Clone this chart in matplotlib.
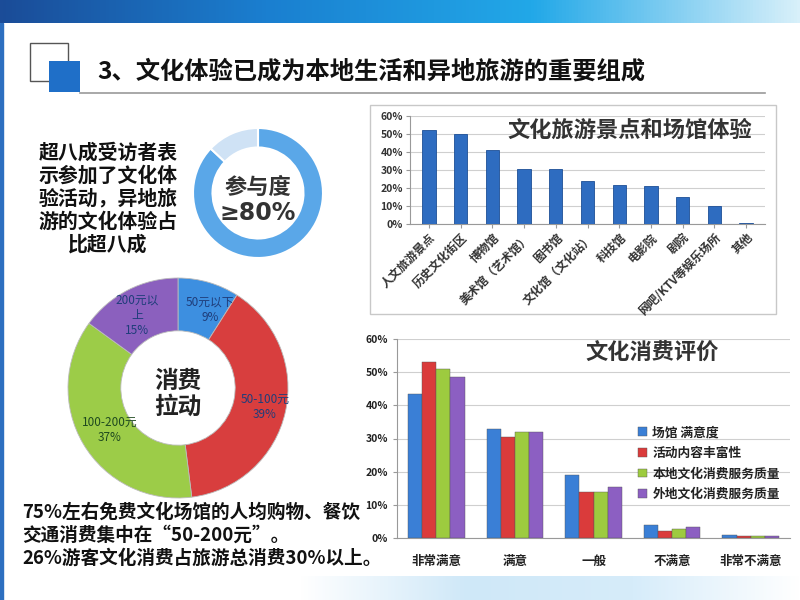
import numpy as np
import matplotlib
matplotlib.use("Agg")
import matplotlib.pyplot as plt
from matplotlib.colors import LinearSegmentedColormap
from matplotlib.patches import Rectangle

plt.rcParams['font.family'] = ['Noto Sans CJK SC', 'DejaVu Sans']

# data
venue_cats = ["人文旅游景点", "历史文化街区", "博物馆", "美术馆（艺术馆）", "图书馆",
              "文化馆（文化站）", "科技馆", "电影院", "剧院", "网吧/KTV等娱乐场所", "其他"]
venue_vals = [52, 50, 41, 30.5, 30.5, 24, 21.5, 21, 15, 10, 0.5]

eval_cats = ["非常满意", "满意", "一般", "不满意", "非常不满意"]
eval_series = ["场馆 满意度", "活动内容丰富性", "本地文化消费服务质量", "外地文化消费服务质量"]
eval_venue = [43.5, 33, 19, 4, 1]
eval_content = [53, 30.5, 14, 2, 0.5]
eval_local = [51, 32, 14, 2.8, 0.5]
eval_remote = [48.5, 32, 15.5, 3.2, 0.7]

spend_labels = ["50元以下\n9%", "50-100元\n39%", "100-200元\n37%", "200元以\n上\n15%"]
spend_vals = [9, 39, 37, 15]

participation = [87, 13]

W, H = 800, 600
fig = plt.figure(figsize=(8, 6), dpi=100)
fig.patch.set_facecolor("white")


def box(x0, y0, x1, y1):
    # pixel box (top-left origin) -> figure fraction
    return [x0 / W, 1 - y1 / H, (x1 - x0) / W, (y1 - y0) / H]


# background decorations
bg = fig.add_axes([0, 0, 1, 1])
bg.set_xlim(0, W)
bg.set_ylim(H, 0)
bg.axis("off")
bg.add_patch(Rectangle((0, 23), 3, H - 23, color="#2d6fc0"))
bg.add_patch(Rectangle((30, 43), 38, 38, facecolor="white", edgecolor="#555555", lw=1))
bg.add_patch(Rectangle((49, 61), 31, 31, facecolor="#1f6fc8", edgecolor="none"))
bg.plot([80, 765], [93, 93], color="#9a9a9a", lw=1.2)
bg.add_patch(Rectangle((370, 105), 406, 209, facecolor="none", edgecolor="#c8c8c8", lw=1))
bg.text(97, 72, "3、文化体验已成为本地生活和异地旅游的重要组成", fontsize=17.5,
        fontweight="bold", va="center", ha="left", color="#111111")

left_text = ["超八成受访者表", "示参加了文化体", "验活动，异地旅", "游的文化体验占", "比超八成"]
for i, line in enumerate(left_text):
    bg.text(108, 152 + i * 23, line, fontsize=14.3, fontweight="bold",
            ha="center", va="center", color="#111111")

bottom_text = ["75%左右免费文化场馆的人均购物、餐饮", "交通消费集中在“50-200元”。",
               "26%游客文化消费占旅游总消费30%以上。"]
for i, line in enumerate(bottom_text):
    bg.text(22, 512 + i * 23, line, fontsize=13.4, fontweight="bold",
            ha="left", va="center", color="#111111")

# top gradient banner
bar_ax = fig.add_axes(box(0, 0, 800, 23))
grad = LinearSegmentedColormap.from_list("banner", ["#1b4c98", "#1a7fd0", "#22a8e8", "#d8f0fa"])
bar_ax.imshow(np.linspace(0, 1, 256).reshape(1, -1), aspect="auto", cmap=grad,
              extent=[0, 1, 0, 1])
bar_ax.axis("off")

# bottom-right light swoosh
sw = fig.add_axes(box(300, 576, 800, 600))
sw_cmap = LinearSegmentedColormap.from_list("sw", ["#ffffff", "#cfe8f8", "#d6ecfa", "#ffffff"])
sw.imshow(np.linspace(0, 1, 256).reshape(1, -1), aspect="auto", cmap=sw_cmap,
          extent=[0, 1, 0, 1])
sw.axis("off")

# participation donut
pa = fig.add_axes(box(193, 128, 323, 258))
pa.pie(participation, colors=["#5aa7e8", "#cfe2f5"], startangle=90, counterclock=False,
       wedgeprops=dict(width=0.3, edgecolor="white", linewidth=1.5))
pa.set_xlim(-1, 1)
pa.set_ylim(-1, 1)
pa.set_aspect("equal")
pa.text(0, 0.09, "参与度", fontsize=16, fontweight="bold", ha="center", va="center", color="#333333")
pa.text(0, -0.31, "≥80%", fontsize=17, fontweight="bold", ha="center", va="center",
        color="#333333", family="DejaVu Sans")

# spending donut
sa = fig.add_axes(box(68, 278, 288, 498))
sp_colors = ["#3d8fe0", "#d83e3e", "#9ccc48", "#8b60be"]
sa.pie(spend_vals, colors=sp_colors, startangle=90, counterclock=False,
       wedgeprops=dict(width=0.48, edgecolor="#bbbbbb", linewidth=0.6))
sa.set_xlim(-1, 1)
sa.set_ylim(-1, 1)
sa.set_aspect("equal")
sa.text(0, -0.05, "消费\n拉动", fontsize=17, fontweight="bold", ha="center", va="center",
        color="#222222", linespacing=1.1)
label_pos = [(0.29, 0.71), (0.79, -0.17), (-0.62, -0.38), (-0.37, 0.66)]
label_col = ["#1f3d7a", "#1f3d7a", "#1f4a1f", "#1f3d7a"]
for lab, (lx, ly), c in zip(spend_labels, label_pos, label_col):
    sa.text(lx, ly, lab, fontsize=8.5, ha="center", va="center", color=c, linespacing=1.25)

# venue bar chart
va = fig.add_axes(box(410, 116, 765, 224))
x = np.arange(len(venue_cats))
va.bar(x, venue_vals, width=0.42, color="#2e6cc0", edgecolor="#1d4f96", linewidth=0.6, zorder=3)
va.set_ylim(0, 60)
va.set_xlim(-0.6, len(venue_cats) - 0.4)
va.set_yticks(range(0, 61, 10))
va.set_yticklabels([f"{v}%" for v in range(0, 61, 10)], fontsize=7.5, fontweight="bold", color="#333333")
va.set_xticks(x)
va.set_xticklabels(venue_cats, rotation=45, ha="right", rotation_mode="anchor",
                   fontsize=8.5, fontweight="bold", color="#333333")
va.yaxis.grid(True, color="#cfcfcf", lw=0.8, zorder=0)
for s in ["top", "right"]:
    va.spines[s].set_visible(False)
va.spines["left"].set_color("#999999")
va.spines["bottom"].set_color("#999999")
va.tick_params(axis="both", length=3, color="#999999", pad=2)
va.text(0.62, 0.87, "文化旅游景点和场馆体验", transform=va.transAxes, fontsize=16,
        fontweight="bold", ha="center", va="center", color="#333333")

# evaluation bar chart
ea = fig.add_axes(box(397, 339, 790, 538))
xe = np.arange(len(eval_cats))
bw = 0.18
series = [eval_venue, eval_content, eval_local, eval_remote]
ev_colors = ["#3a7fd6", "#da3b3b", "#9dcb3f", "#8c5fc2"]
for i, (vals, lab, c) in enumerate(zip(series, eval_series, ev_colors)):
    ea.bar(xe + (i - 1.5) * bw, vals, width=bw, color=c, edgecolor="#555555",
           linewidth=0.3, label=lab, zorder=3)
ea.set_ylim(0, 60)
ea.set_xlim(-0.5, len(eval_cats) - 0.5)
ea.set_yticks(range(0, 61, 10))
ea.set_yticklabels([f"{v}%" for v in range(0, 61, 10)], fontsize=7.5, fontweight="bold", color="#222222")
ea.set_xticks(xe)
ea.set_xticklabels(eval_cats, fontsize=9, fontweight="bold", color="#222222")
ea.yaxis.grid(True, color="#cfcfcf", lw=0.8, zorder=0)
for s in ["top", "right"]:
    ea.spines[s].set_visible(False)
ea.spines["left"].set_color("#999999")
ea.spines["bottom"].set_color("#999999")
ea.tick_params(axis="x", length=0, pad=12)
ea.tick_params(axis="y", length=3, color="#999999")
ea.text(0.65, 0.93, "文化消费评价", transform=ea.transAxes, fontsize=16,
        fontweight="bold", ha="center", va="center", color="#333333")
leg = ea.legend(loc="upper left", bbox_to_anchor=(0.585, 0.62), frameon=False,
                prop=dict(size=9.2, weight="bold"), handlelength=0.7, handleheight=0.7,
                handletextpad=0.4, labelspacing=0.6)
for t in leg.get_texts():
    t.set_color("#222222")

fig.savefig("out.png", dpi=100)
